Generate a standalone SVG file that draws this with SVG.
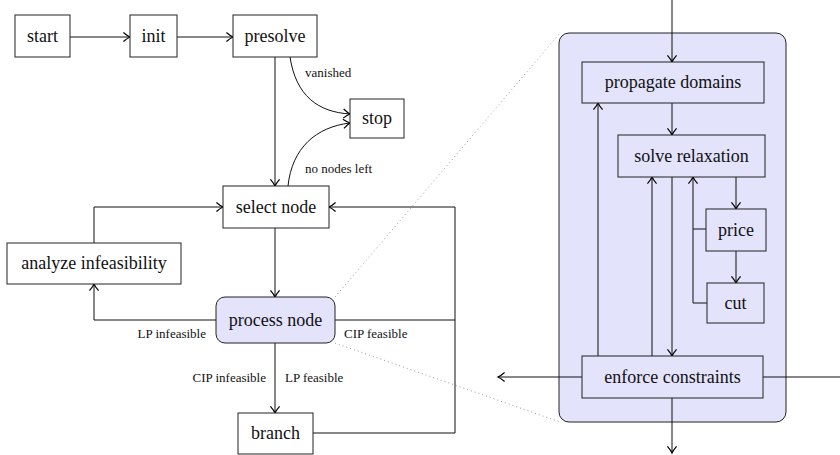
<svg xmlns="http://www.w3.org/2000/svg" width="840" height="455" viewBox="0 0 840 455">
<defs>
<marker id="ar" markerUnits="userSpaceOnUse" markerWidth="12" markerHeight="12" viewBox="-7 -5 8 10" refX="0" refY="0" orient="auto">
<path d="M-5.5,-3.8 Q-2,-0.8 0,0 Q-2,0.8 -5.5,3.8" fill="none" stroke="#000" stroke-width="1"/>
</marker>
</defs>
<style>
.box{fill:#fff;stroke:#222;stroke-width:1}
.hl{fill:#e3e3fc;stroke:#222;stroke-width:1}
.t{font-family:"Liberation Serif","Times New Roman",serif;font-size:18px;fill:#111;text-anchor:middle}
.l{font-family:"Liberation Serif","Times New Roman",serif;font-size:13px;fill:#111}
.c{fill:none;stroke:#111;stroke-width:1}
.a{marker-end:url(#ar)}
.dot{fill:none;stroke:#999;stroke-width:1;stroke-dasharray:1 3}
</style>
<g id="zoom-lines">
<line class="dot" x1="335" y1="297" x2="560" y2="33"/>
<line class="dot" x1="335" y1="343" x2="560" y2="422"/>
</g>
<g id="container">
<rect class="hl" x="559" y="33" width="227" height="389" rx="10"/>
</g>
<g id="connectors">
<line class="c a" x1="70" y1="37" x2="130" y2="37"/>
<line class="c a" x1="177" y1="37" x2="233" y2="37"/>
<line class="c a" x1="275" y1="57" x2="275" y2="186"/>
<path class="c a" d="M290,57 C296,96 318,112 350,114"/>
<path class="c a" d="M288,186 C292,148 316,127 350,123"/>
<line class="c a" x1="275" y1="228" x2="275" y2="297"/>
<polyline class="c a" points="94,243 94,207 223,207"/>
<polyline class="c a" points="216,320 94,320 94,284"/>
<line class="c a" x1="275" y1="343" x2="275" y2="413"/>
<polyline class="c" points="335,320 455,320"/>
<polyline class="c a" points="313,433 455,433 455,207 329,207"/>
<line class="c a" x1="672" y1="0" x2="672" y2="62"/>
<line class="c a" x1="672" y1="103" x2="672" y2="135"/>
<line class="c a" x1="736" y1="177" x2="736" y2="209"/>
<line class="c a" x1="736" y1="251" x2="736" y2="283"/>
<polyline class="c a" points="707,303 693,303 693,177"/>
<line class="c" x1="706" y1="229" x2="693" y2="229"/>
<line class="c a" x1="672" y1="177" x2="672" y2="356"/>
<line class="c a" x1="652" y1="356" x2="652" y2="177"/>
<line class="c a" x1="598" y1="356" x2="598" y2="103"/>
<line class="c a" x1="582" y1="377" x2="498" y2="377"/>
<line class="c" x1="763" y1="377" x2="840" y2="377"/>
<line class="c a" x1="672" y1="398" x2="672" y2="453"/>
</g>
<g id="labels">
<text class="l" x="305" y="77">vanished</text>
<text class="l" x="305" y="173">no nodes left</text>
<text class="l" x="206" y="338" text-anchor="end">LP infeasible</text>
<text class="l" x="344" y="338">CIP feasible</text>
<text class="l" x="266" y="382" text-anchor="end">CIP infeasible</text>
<text class="l" x="285" y="382">LP feasible</text>
</g>
<g id="start"><rect class="box" x="15" y="15" width="55" height="42"/><text class="t" x="42.5" y="42">start</text></g>
<g id="init"><rect class="box" x="130" y="15" width="47" height="42"/><text class="t" x="153.5" y="42">init</text></g>
<g id="presolve"><rect class="box" x="233" y="15" width="84" height="42"/><text class="t" x="275" y="42">presolve</text></g>
<g id="stop"><rect class="box" x="350" y="99" width="54" height="39"/><text class="t" x="377" y="124">stop</text></g>
<g id="select-node"><rect class="box" x="223" y="186" width="106" height="42"/><text class="t" x="276" y="213">select node</text></g>
<g id="analyze-infeasibility"><rect class="box" x="7" y="243" width="174" height="41"/><text class="t" x="94" y="269">analyze infeasibility</text></g>
<g id="process-node"><rect class="hl" x="216" y="297" width="119" height="46" rx="9"/><text class="t" x="275.5" y="326">process node</text></g>
<g id="branch"><rect class="box" x="238" y="413" width="75" height="41"/><text class="t" x="275.5" y="439">branch</text></g>
<g id="propagate-domains"><rect class="hl" x="582" y="62" width="182" height="41"/><text class="t" x="673" y="88">propagate domains</text></g>
<g id="solve-relaxation"><rect class="hl" x="618" y="135" width="147" height="42"/><text class="t" x="691.5" y="162">solve relaxation</text></g>
<g id="price"><rect class="hl" x="706" y="209" width="60" height="42"/><text class="t" x="736" y="236">price</text></g>
<g id="cut"><rect class="hl" x="707" y="283" width="57" height="40"/><text class="t" x="735.5" y="309">cut</text></g>
<g id="enforce-constraints"><rect class="hl" x="582" y="356" width="181" height="42"/><text class="t" x="672.5" y="383">enforce constraints</text></g>
</svg>
